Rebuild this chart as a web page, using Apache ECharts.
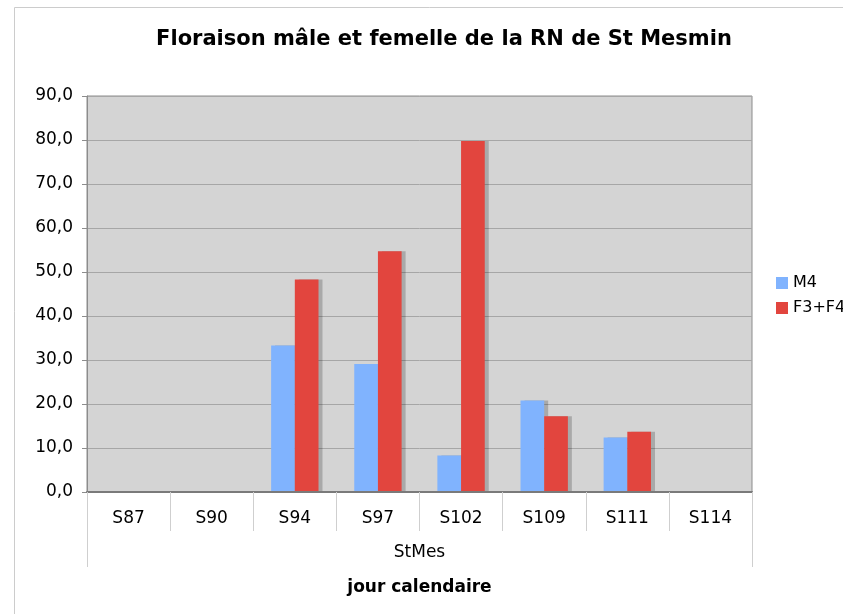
<!DOCTYPE html>
<html>
<head>
<meta charset="utf-8">
<script src="https://cdn.jsdelivr.net/npm/echarts@6/dist/echarts.min.js"></script>
<style>
  html, body { margin: 0; padding: 0; background: #fff; }
  #chart { width: 843px; height: 614px; }
</style>
</head>
<body>
<div id="chart"></div>
<script>
var categories = ["S87", "S90", "S94", "S97", "S102", "S109", "S111", "S114"];
var groupLabels = ["StMes"];
var m4 = [null, null, 33.3, 29.1, 8.3, 20.8, 12.4, null];
var f3f4 = [null, null, 48.3, 54.7, 79.8, 17.2, 13.7, null];
var yTicks = { min: 0, max: 90, step: 10 };

var font = "DejaVu Sans, Verdana, sans-serif";

var chart = echarts.init(document.getElementById("chart"));

function barSeries(name, data, color) {
  return {
    name: name,
    type: "bar",
    data: data,
    barGap: "0%",
    barCategoryGap: "43%",
    itemStyle: {
      color: color,
      shadowColor: "rgba(0,0,0,0.2)",
      shadowOffsetX: 4,
      shadowOffsetY: 0,
      shadowBlur: 0
    }
  };
}

var option = {
  animation: false,
  backgroundColor: "#fff",
  textStyle: { fontFamily: font },
  graphic: [{
    type: "rect",
    shape: { x: 14.5, y: 7.5, width: 900, height: 700 },
    style: { fill: "none", stroke: "#cccccc", lineWidth: 1 },
    silent: true,
    z: -10
  }],
  title: {
    text: "Floraison mâle et femelle de la RN de St Mesmin",
    left: 439,
    textAlign: "center",
    top: 24,
    textStyle: { fontFamily: font, fontSize: 21, fontWeight: "bold", color: "#000" }
  },
  legend: {
    orient: "vertical",
    left: 771,
    top: 270,
    icon: "rect",
    itemWidth: 12,
    itemHeight: 12,
    itemGap: 9,
    textStyle: { fontFamily: font, fontSize: 16, color: "#000" },
    data: ["M4", "F3+F4"]
  },
  grid: {
    left: 87,
    top: 96,
    width: 665,
    height: 396,
    show: true,
    backgroundColor: "#d4d4d4",
    borderColor: "#8c8c8c",
    borderWidth: 1
  },
  xAxis: [
    {
      type: "category",
      data: categories,
      position: "bottom",
      z: 3,
      axisLine: { show: true, lineStyle: { color: "#7a7a7a", width: 2 } },
      axisTick: { show: true, length: 39, lineStyle: { color: "#cfcfcf" } },
      axisLabel: { color: "#000", fontSize: 17, margin: 18, fontFamily: font },
      splitLine: { show: false }
    },
    {
      type: "category",
      data: groupLabels,
      position: "bottom",
      offset: 39,
      axisLine: { show: false },
      axisTick: { show: true, length: 36, lineStyle: { color: "#cfcfcf" } },
      axisLabel: { color: "#000", fontSize: 17, margin: 13, fontFamily: font },
      name: "jour calendaire",
      nameLocation: "middle",
      nameGap: 48,
      nameTextStyle: { color: "#000", fontSize: 17, fontWeight: "bold", fontFamily: font }
    }
  ],
  yAxis: {
    type: "value",
    min: yTicks.min,
    max: yTicks.max,
    interval: yTicks.step,
    axisLine: { show: true, lineStyle: { color: "#8c8c8c" } },
    axisTick: { show: true, length: 5, lineStyle: { color: "#8c8c8c" } },
    axisLabel: {
      color: "#000",
      fontSize: 17,
      margin: 14,
      fontFamily: font,
      formatter: function (v) { return v.toFixed(1).replace(".", ","); }
    },
    splitLine: { show: true, lineStyle: { color: "#a6a6a6" } }
  },
  series: [
    barSeries("M4", m4, "#80b3fe"),
    barSeries("F3+F4", f3f4, "#e2453e")
  ]
};

chart.setOption(option);
</script>
</body>
</html>
